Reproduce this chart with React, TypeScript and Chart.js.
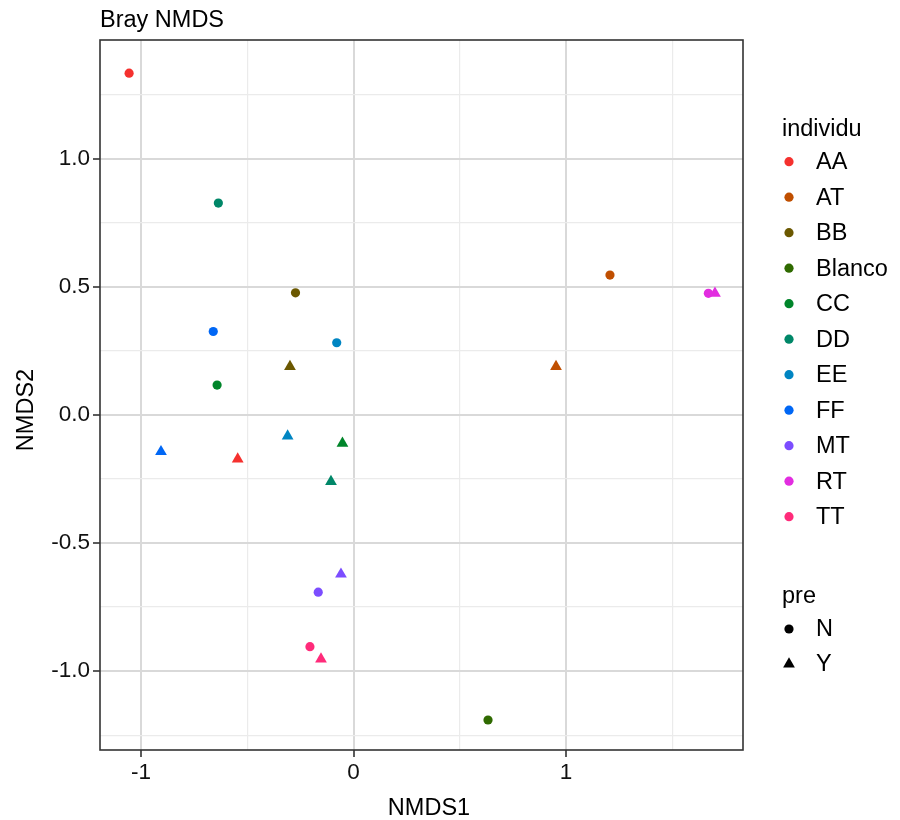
import React, { useEffect, useRef } from 'react';
import { Chart, registerables } from 'chart.js';

Chart.register(...registerables);

// ---- data ----
const individu = ['AA', 'AT', 'BB', 'Blanco', 'CC', 'DD', 'EE', 'FF', 'MT', 'RT', 'TT'];
const colors = ['#F5312E', '#C04F00', '#6B5800', '#2F6A00', '#00852A', '#008768', '#0085C2', '#0067F5', '#7C4DFF', '#E22DE0', '#FF2B7A'];
const preLevels = ['N', 'Y'];
// pre = N
const nmds1N = [-1.056, 1.207, -0.273, 0.633, -0.642, -0.636, -0.079, -0.660, -0.166, 1.670, -0.205];
const nmds2N = [1.333, 0.545, 0.476, -1.191, 0.116, 0.826, 0.281, 0.325, -0.692, 0.474, -0.905];
// pre = Y (Blanco has no Y sample)
const nmds1Y = [-0.545, 0.953, -0.299, null, -0.052, -0.106, -0.310, -0.906, -0.059, 1.701, -0.153];
const nmds2Y = [-0.173, 0.188, 0.188, null, -0.111, -0.261, -0.083, -0.144, -0.622, 0.474, -0.953];

const xRange = [-1.193, 1.833];
const yRange = [-1.308, 1.4624];
const xMajor = [-1, 0, 1];
const xMinor = [-0.5, 0.5, 1.5];
const yMajor = [-1, -0.5, 0, 0.5, 1];
const yMinor = [-1.25, -0.75, -0.25, 0.25, 0.75, 1.25];
const xTickLabels = ['-1', '0', '1'];
const yTickLabels = ['-1.0', '-0.5', '0.0', '0.5', '1.0'];

const chartTitle = 'Bray NMDS';
const xTitle = 'NMDS1';
const yTitle = 'NMDS2';
const legendTitle1 = 'individu';
const legendTitle2 = 'pre';

const FONT = 'Arial, "Liberation Sans", Helvetica, sans-serif';
const TEXT_SIZE = 23.5;

const isMajor = (list: number[], v: number) => list.some((m) => Math.abs(m - v) < 1e-9);

const overlayPlugin = {
  id: 'overlay',
  beforeDatasetsDraw(chart: any) {
    const { ctx, chartArea } = chart;
    ctx.save();
    ctx.strokeStyle = '#333333';
    ctx.lineWidth = 1.6;
    ctx.strokeRect(chartArea.left, chartArea.top, chartArea.right - chartArea.left, chartArea.bottom - chartArea.top);
    ctx.restore();
  },
  afterDraw(chart: any) {
    const { ctx } = chart;
    ctx.save();
    ctx.fillStyle = '#000000';
    ctx.font = `${TEXT_SIZE}px ${FONT}`;
    ctx.textAlign = 'left';
    ctx.textBaseline = 'alphabetic';
    ctx.fillText(chartTitle, 100, 27);

    ctx.textAlign = 'center';
    ctx.fillText(xTitle, 429, 815);

    ctx.save();
    ctx.translate(33, 410);
    ctx.rotate(-Math.PI / 2);
    ctx.fillText(yTitle, 0, 0);
    ctx.restore();

    // legend: individu
    const lx = 782;
    const keyX = 789;
    const labX = 816;
    ctx.textAlign = 'left';
    ctx.fillText(legendTitle1, lx, 136);
    const rowStart = 161.7;
    const rowStep = 35.5;
    individu.forEach((name, i) => {
      const y = rowStart + i * rowStep;
      ctx.fillStyle = colors[i];
      ctx.beginPath();
      ctx.arc(keyX, y, 4.6, 0, Math.PI * 2);
      ctx.fill();
      ctx.fillStyle = '#000000';
      ctx.textBaseline = 'middle';
      ctx.fillText(name, labX, y + 1);
      ctx.textBaseline = 'alphabetic';
    });

    // legend: pre
    ctx.fillText(legendTitle2, lx, 603);
    preLevels.forEach((p, i) => {
      const y = 629 + i * 35;
      ctx.fillStyle = '#000000';
      if (p === 'N') {
        ctx.beginPath();
        ctx.arc(keyX, y, 4.6, 0, Math.PI * 2);
        ctx.fill();
      } else {
        const r = 6.8;
        ctx.beginPath();
        ctx.moveTo(keyX, y - r);
        ctx.lineTo(keyX + r * Math.sin(Math.PI / 3), y + r / 2);
        ctx.lineTo(keyX - r * Math.sin(Math.PI / 3), y + r / 2);
        ctx.closePath();
        ctx.fill();
      }
      ctx.textBaseline = 'middle';
      ctx.fillText(p, labX, y + 1);
      ctx.textBaseline = 'alphabetic';
    });
    ctx.restore();
  },
};

export default function App() {
  const canvasRef = useRef<HTMLCanvasElement | null>(null);

  useEffect(() => {
    if (!canvasRef.current) return;
    const datasets = individu.map((name, i) => {
      const pts: any[] = [{ x: nmds1N[i], y: nmds2N[i], pre: 'N' }];
      if (nmds1Y[i] !== null && nmds2Y[i] !== null) {
        pts.push({ x: nmds1Y[i], y: nmds2Y[i], pre: 'Y' });
      }
      return {
        label: name,
        data: pts,
        backgroundColor: colors[i],
        borderColor: colors[i],
        borderWidth: 0,
        pointStyle: (c: any) => (c.raw && c.raw.pre === 'Y' ? 'triangle' : 'circle'),
        pointRadius: (c: any) => (c.raw && c.raw.pre === 'Y' ? 6.8 : 4.6),
        pointHoverRadius: (c: any) => (c.raw && c.raw.pre === 'Y' ? 6.8 : 4.6),
      };
    });

    const chart = new Chart(canvasRef.current, {
      type: 'scatter',
      data: { datasets },
      options: {
        responsive: false,
        animation: false,
        devicePixelRatio: 1,
        layout: { padding: { left: 0, right: 157, top: 40, bottom: 0 } },
        plugins: {
          legend: { display: false },
          title: { display: false },
          tooltip: { enabled: false },
        },
        scales: {
          x: {
            type: 'linear',
            min: xRange[0],
            max: xRange[1],
            afterBuildTicks: (scale: any) => {
              scale.ticks = [...xMajor, ...xMinor].sort((a, b) => a - b).map((v) => ({ value: v }));
            },
            afterFit: (scale: any) => {
              scale.height = 70;
            },
            border: { display: false },
            grid: {
              color: (c: any) => (isMajor(xMajor, c.tick?.value) ? '#d9d9d9' : '#ebebeb'),
              lineWidth: (c: any) => (isMajor(xMajor, c.tick?.value) ? 2 : 1.2),
              drawTicks: true,
              tickLength: 7,
              tickColor: (c: any) => (isMajor(xMajor, c.tick?.value) ? '#333333' : 'rgba(0,0,0,0)'),
              tickWidth: 1.6,
            },
            ticks: {
              autoSkip: false,
              maxRotation: 0,
              padding: 2,
              color: '#111111',
              font: { family: FONT, size: 22.5 },
              callback: (v: any) => {
                const idx = xMajor.findIndex((m) => Math.abs(m - Number(v)) < 1e-9);
                return idx >= 0 ? xTickLabels[idx] : '';
              },
            },
          },
          y: {
            type: 'linear',
            min: yRange[0],
            max: yRange[1],
            afterBuildTicks: (scale: any) => {
              scale.ticks = [...yMajor, ...yMinor].sort((a, b) => a - b).map((v) => ({ value: v }));
            },
            afterFit: (scale: any) => {
              scale.width = 100;
            },
            border: { display: false },
            grid: {
              color: (c: any) => (isMajor(yMajor, c.tick?.value) ? '#d9d9d9' : '#ebebeb'),
              lineWidth: (c: any) => (isMajor(yMajor, c.tick?.value) ? 2 : 1.2),
              drawTicks: true,
              tickLength: 7,
              tickColor: (c: any) => (isMajor(yMajor, c.tick?.value) ? '#333333' : 'rgba(0,0,0,0)'),
              tickWidth: 1.6,
            },
            ticks: {
              autoSkip: false,
              padding: 3,
              color: '#111111',
              font: { family: FONT, size: 22.5 },
              callback: (v: any) => {
                const idx = yMajor.findIndex((m) => Math.abs(m - Number(v)) < 1e-9);
                return idx >= 0 ? yTickLabels[idx] : '';
              },
            },
          },
        },
      },
      plugins: [overlayPlugin],
    });
    return () => chart.destroy();
  }, []);

  return (
    <div style={{ position: 'absolute', left: 0, top: 0, width: 900, height: 820, background: '#ffffff' }}>
      <canvas ref={canvasRef} width={900} height={820} style={{ width: 900, height: 820, display: 'block' }} />
    </div>
  );
}
